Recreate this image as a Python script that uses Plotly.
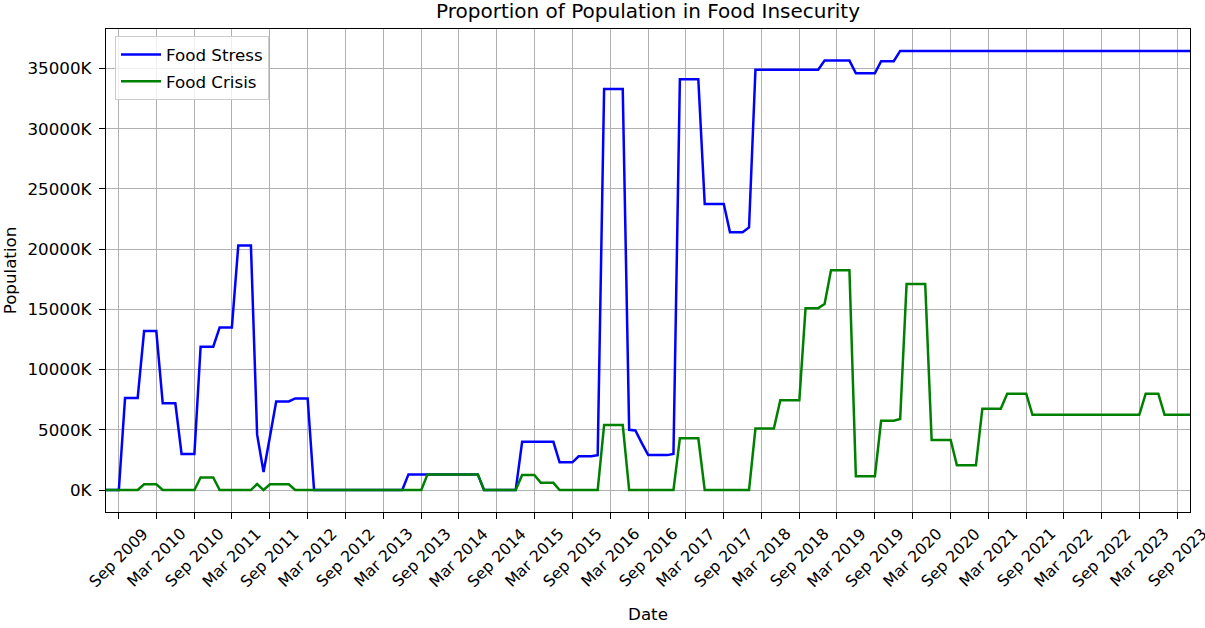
import pandas as pd
import plotly.graph_objects as go

# Monthly series (thousands of people), starting July 2009
start_month = "2009-07-01"

food_stress = [
    # 2009 Jul-Dec
    0, 0, 0, 7650, 7650, 7650,
    # 2010
    13200, 13200, 13200, 7200, 7200, 7200, 3000, 3000, 3000, 11900, 11900, 11900,
    # 2011
    13500, 13500, 13500, 20300, 20300, 20300, 4600, 1500, 4450, 7350, 7350, 7350,
    # 2012
    7600, 7600, 7600, 0, 0, 0, 0, 0, 0, 0, 0, 0,
    # 2013
    0, 0, 0, 0, 0, 0, 1300, 1300, 1300, 1300, 1300, 1300,
    # 2014
    1300, 1300, 1300, 1300, 1300, 1300, 0, 0, 0, 0, 0, 0,
    # 2015
    4000, 4000, 4000, 4000, 4000, 4000, 2300, 2300, 2300, 2800, 2800, 2800,
    # 2016
    2900, 33300, 33300, 33300, 33300, 5000, 4950, 3900, 2900, 2900, 2900, 2900,
    # 2017
    3000, 34100, 34100, 34100, 34100, 23750, 23750, 23750, 23750, 21400, 21400, 21400,
    # 2018
    21800, 34900, 34900, 34900, 34900, 34900, 34900, 34900, 34900, 34900, 34900, 34900,
    # 2019
    35650, 35650, 35650, 35650, 35650, 34600, 34600, 34600, 34600, 35600, 35600, 35600,
    # 2020
    36450, 36450, 36450, 36450, 36450, 36450, 36450, 36450, 36450, 36450, 36450, 36450,
    # 2021
    36450, 36450, 36450, 36450, 36450, 36450, 36450, 36450, 36450, 36450, 36450, 36450,
    # 2022
    36450, 36450, 36450, 36450, 36450, 36450, 36450, 36450, 36450, 36450, 36450, 36450,
    # 2023 Jan-Nov
    36450, 36450, 36450, 36450, 36450, 36450, 36450, 36450, 36450, 36450, 36450,
]

food_crisis = [
    # 2009 Jul-Dec
    0, 0, 0, 0, 0, 0,
    # 2010
    480, 480, 480, 0, 0, 0, 0, 0, 0, 1050, 1050, 1050,
    # 2011
    0, 0, 0, 0, 0, 0, 500, 0, 480, 480, 480, 480,
    # 2012
    0, 0, 0, 0, 0, 0, 0, 0, 0, 0, 0, 0,
    # 2013
    0, 0, 0, 0, 0, 0, 0, 0, 0, 1300, 1300, 1300,
    # 2014
    1300, 1300, 1300, 1300, 1300, 1300, 0, 0, 0, 0, 0, 0,
    # 2015
    1250, 1250, 1250, 600, 600, 600, 0, 0, 0, 0, 0, 0,
    # 2016
    0, 5400, 5400, 5400, 5400, 0, 0, 0, 0, 0, 0, 0,
    # 2017
    0, 4300, 4300, 4300, 4300, 0, 0, 0, 0, 0, 0, 0,
    # 2018
    0, 5100, 5100, 5100, 5100, 7450, 7450, 7450, 7450, 15100, 15100, 15100,
    # 2019
    15450, 18250, 18250, 18250, 18250, 1150, 1150, 1150, 1150, 5750, 5750, 5750,
    # 2020
    5900, 17100, 17100, 17100, 17100, 4150, 4150, 4150, 4150, 2050, 2050, 2050,
    # 2021
    2050, 6750, 6750, 6750, 6750, 8000, 8000, 8000, 8000, 6250, 6250, 6250,
    # 2022
    6250, 6250, 6250, 6250, 6250, 6250, 6250, 6250, 6250, 6250, 6250, 6250,
    # 2023 Jan-Nov
    6250, 6250, 6250, 8000, 8000, 8000, 6250, 6250, 6250, 6250, 6250,
]

tick_labels = [
    "Sep 2009", "Mar 2010", "Sep 2010", "Mar 2011", "Sep 2011", "Mar 2012",
    "Sep 2012", "Mar 2013", "Sep 2013", "Mar 2014", "Sep 2014", "Mar 2015",
    "Sep 2015", "Mar 2016", "Sep 2016", "Mar 2017", "Sep 2017", "Mar 2018",
    "Sep 2018", "Mar 2019", "Sep 2019", "Mar 2020", "Sep 2020", "Mar 2021",
    "Sep 2021", "Mar 2022", "Sep 2022", "Mar 2023", "Sep 2023",
]

y_ticks = [0, 5000, 10000, 15000, 20000, 25000, 30000, 35000]
y_tick_text = [f"{v}K" for v in y_ticks]

dates = pd.date_range(start_month, periods=len(food_stress), freq="MS")
tick_dates = [pd.to_datetime(t, format="%b %Y") for t in tick_labels]

FONT = "DejaVu Sans"
TXT = 16.7

fig = go.Figure()
fig.add_trace(go.Scatter(
    x=dates, y=food_stress, mode="lines", name="Food Stress",
    line=dict(color="#0000ff", width=2.5), legendgroup="stress",
))
fig.add_trace(go.Scatter(
    x=dates, y=food_crisis, mode="lines", name="Food Crisis",
    line=dict(color="#008000", width=2.5), legendgroup="crisis",
))

# Rotated date labels centred under each tick
for d, lab in zip(tick_dates, tick_labels):
    fig.add_annotation(
        x=d, xref="x", y=0, yref="paper", yshift=-11,
        text=lab, textangle=-45, showarrow=False,
        xanchor="center", yanchor="top", borderpad=0,
        font=dict(family=FONT, size=15.8, color="#000000"),
    )

ymax = max(food_stress)
pad = 0.05 * ymax

fig.update_layout(
    width=1205, height=628, autosize=False,
    margin=dict(l=106, r=15, t=29, b=116),
    paper_bgcolor="white", plot_bgcolor="white",
    font=dict(family=FONT, size=TXT, color="#000000"),
    title=dict(
        text="Proportion of Population in Food Insecurity",
        x=0.5, xref="paper", xanchor="center",
        y=1 - 11 / 628, yref="container", yanchor="middle",
        font=dict(family=FONT, size=20, color="#000000"),
    ),
    showlegend=True,
    legend=dict(
        x=0.0083, y=0.985, xanchor="left", yanchor="top",
        bgcolor="rgba(255,255,255,0.8)", bordercolor="#cccccc", borderwidth=1,
        font=dict(family=FONT, size=TXT, color="#000000"),
        traceorder="grouped", tracegroupgap=2, itemwidth=40,
    ),
    xaxis=dict(
        type="date", range=[dates[0], dates[-1]],
        tickmode="array", tickvals=tick_dates, showticklabels=False,
        ticks="outside", ticklen=6, tickwidth=1.3, tickcolor="#000000",
        showgrid=True, gridcolor="#b0b0b0", gridwidth=1.3,
        showline=True, linecolor="#000000", linewidth=1.3, mirror=True,
        zeroline=False, automargin=False,
        title=dict(text="Date", standoff=90,
                   font=dict(family=FONT, size=TXT, color="#000000")),
    ),
    yaxis=dict(
        range=[-pad, ymax + pad],
        tickmode="array", tickvals=y_ticks, ticktext=y_tick_text,
        ticks="outside", ticklen=6, tickwidth=1.3, tickcolor="#000000",
        showgrid=True, gridcolor="#b0b0b0", gridwidth=1.3,
        showline=True, linecolor="#000000", linewidth=1.3, mirror=True,
        zeroline=False, automargin=False, ticklabelstandoff=4,
        tickfont=dict(family=FONT, size=TXT, color="#000000"),
        title=dict(text="Population", standoff=6,
                   font=dict(family=FONT, size=TXT, color="#000000")),
    ),
)

fig.write_html("out.html")
